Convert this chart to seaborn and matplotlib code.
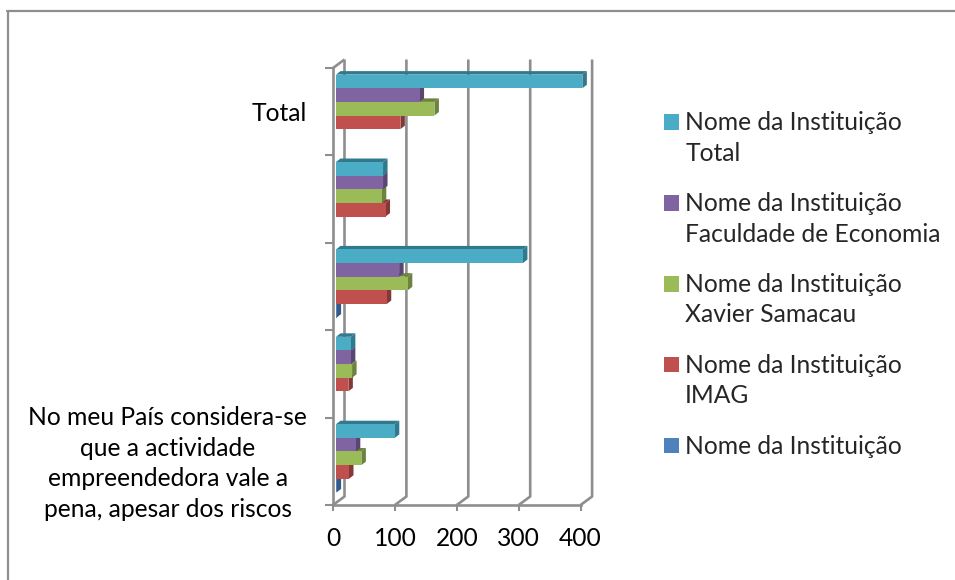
import matplotlib
matplotlib.use("Agg")
import matplotlib.pyplot as plt
from matplotlib.lines import Line2D
from matplotlib.patches import Polygon
from matplotlib.transforms import ScaledTranslation
import pandas as pd
import seaborn as sns

# Chart values, listed from the top group downwards
groups = ["G5", "G4", "G3", "G2", "G1"]
group_labels = ["Total", "", "", "",
                "No meu País considera-se\nque a actividade\nempreendedora vale a\npena, apesar dos riscos"]
series_names = ["Nome da Instituição\nTotal",
                "Nome da Instituição\nFaculdade de Economia",
                "Nome da Instituição\nXavier Samacau",
                "Nome da Instituição\nIMAG",
                "Nome da Instituição"]
total_values = [398, 76, 302, 24, 95]
economia_values = [135, 76, 102, 24, 32]
xavier_values = [159, 74, 116, 26, 41]
imag_values = [104, 80, 82, 20, 21]
blank_values = [None, None, 1, None, 1]
x_ticks = [0, 100, 200, 300, 400]

FRONT = ["#4BACC6", "#8064A2", "#9BBB59", "#C0504D", "#4F81BD"]
SHADE = ["#31798D", "#5A4672", "#6C833E", "#863836", "#375A84"]
GREY = "#8E8E8E"
FONT_PT = 24.6 * 0.72
W, H = 955, 580

sns.set_theme(style="white")
plt.rcParams["font.family"] = ["Lato", "DejaVu Sans"]

fig = plt.figure(figsize=(W / 100, H / 100), dpi=100, facecolor="white")
ax_left, ax_right, ax_top, ax_bottom = 333, 580.6, 68, 505
ax = fig.add_axes([ax_left / W, 1 - ax_bottom / H,
                   (ax_right - ax_left) / W, (ax_bottom - ax_top) / H])

rows = []
for name, values in zip(series_names,
                        [total_values, economia_values, xavier_values, imag_values, blank_values]):
    for group, value in zip(groups, values):
        rows.append({"group": group, "series": name, "value": value})
table = pd.DataFrame(rows)
table["value"] = pd.to_numeric(table["value"])

sns.barplot(data=table, y="group", x="value", hue="series", order=groups,
            hue_order=series_names, palette=FRONT, orient="h", width=0.78, gap=0,
            saturation=1, errorbar=None, legend=False, ax=ax)

ax.set_xlim(0, 400)
ax.set_ylim(4.5, -0.5)
ax.set_xlabel("")
ax.set_ylabel("")

# Pixel lengths expressed in data units
unit_x = 400 / (ax_right - ax_left)
unit_y = 5 / (ax_bottom - ax_top)

# Back wall and floor of the pseudo-3D plot box
wall_dx, wall_dy = 11.5 * unit_x, 8.5 * unit_y
line_kw = dict(color=GREY, lw=1.9, clip_on=False, zorder=1, solid_capstyle="butt")
for tick in x_ticks:
    ax.plot([tick, tick + wall_dx, tick + wall_dx],
            [4.5, 4.5 - wall_dy, -0.5 - wall_dy], **line_kw)
ax.plot([0, wall_dx], [-0.5, -0.5 - wall_dy], **line_kw)

# Front faces are shifted onto the floor; sides and tops give the bars depth.
# Lower series are painted first so the bar above covers their top face.
shift_x, shift_y = 3 * unit_x, 3 * unit_y
depth_x, depth_y = 4.5 * unit_x, 3.5 * unit_y
order = 10
for series_index in reversed(range(len(series_names))):
    for bar in ax.containers[series_index]:
        bar.set_clip_on(False)
        bar.set_x(bar.get_x() + shift_x)
        bar.set_y(bar.get_y() - shift_y)
        bar.set_edgecolor("none")
        x0, y0 = bar.get_x(), bar.get_y()
        x1, y1 = x0 + bar.get_width(), y0 + bar.get_height()
        shade = SHADE[series_index]
        side = Polygon([(x1, y0), (x1 + depth_x, y0 - depth_y),
                        (x1 + depth_x, y1 - depth_y), (x1, y1)],
                       facecolor=shade, edgecolor="none", clip_on=False, zorder=order)
        top = Polygon([(x0, y0), (x0 + depth_x, y0 - depth_y),
                       (x1 + depth_x, y0 - depth_y), (x1, y0)],
                      facecolor=shade, edgecolor="none", clip_on=False, zorder=order + 1)
        ax.add_patch(side)
        ax.add_patch(top)
        bar.set_zorder(order + 2)
    order += 3

# Axes, ticks and labels
sns.despine(ax=ax, top=True, right=True)
for spine in ("left", "bottom"):
    ax.spines[spine].set_color(GREY)
    ax.spines[spine].set_linewidth(1.9)
ax.set_xticks(x_ticks)
ax.set_yticks(range(len(groups)))
ax.set_yticklabels(group_labels, fontsize=FONT_PT, color="black",
                   linespacing=1.39, ha="right", multialignment="center")
ax.set_yticks([i - 0.5 for i in range(len(groups) + 1)], minor=True)
ax.tick_params(axis="y", which="major", length=0, pad=18.7)
ax.tick_params(axis="y", which="minor", length=5.5, width=1.5, color=GREY, left=True)
ax.tick_params(axis="x", which="major", length=4.5, width=1.5, color=GREY, bottom=True,
               labelsize=FONT_PT, labelcolor="black", pad=11.5)
ax.patch.set_alpha(0)

# The long wrapped label sits slightly above its tick
long_label = ax.get_yticklabels()[-1]
long_label.set_transform(long_label.get_transform()
                         + ScaledTranslation(0, 3.5 / 100, fig.dpi_scale_trans))

# Legend with the swatch beside the first line of each entry
handles = [plt.Rectangle((0, 0), 1, 1, facecolor=c, edgecolor="none") for c in FRONT]
legend = fig.legend(handles, series_names, loc="upper left",
                    bbox_to_anchor=(663.5 / W, 1 - 111 / H), frameon=False,
                    fontsize=FONT_PT, handlelength=0.61, handleheight=0.61,
                    handletextpad=0.27, labelspacing=1.11, alignment="left", borderpad=0,
                    borderaxespad=0)
for text in legend.get_texts():
    text.set_linespacing(1.4)
for row in legend._legend_handle_box.get_children()[0].get_children():
    row.align = "top"
for swatch in legend.legend_handles:
    swatch.set_y(swatch.get_y() - 3 * 0.72)

# Outer chart frame
for xs, ys in (([7.5, 7.5], [11, H]), ([6.5, W], [11, 11])):
    fig.add_artist(Line2D([x / W for x in xs], [1 - y / H for y in ys],
                          color=GREY, lw=1.6, transform=fig.transFigure))

fig.savefig("out.png", dpi=100, facecolor="white")
